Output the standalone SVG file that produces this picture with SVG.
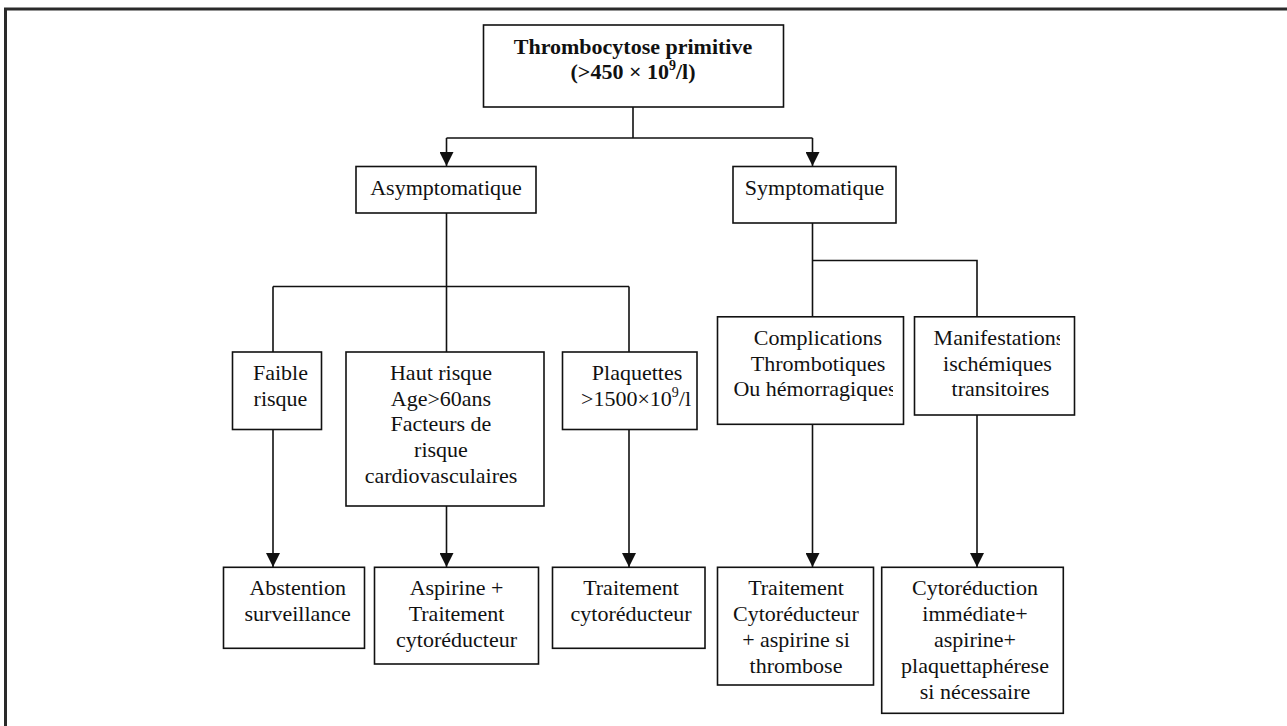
<svg xmlns="http://www.w3.org/2000/svg" width="1287" height="726" viewBox="0 0 1287 726">
<style>
.box{fill:#fff;stroke:#111;stroke-width:1.6}
.t{font-family:"Liberation Serif","Times New Roman",serif;font-size:22px;fill:#111;text-anchor:middle}
.b{font-weight:bold}
.ln{fill:none;stroke:#111;stroke-width:1.6}
.frame{fill:none;stroke:#2a2a2a;stroke-width:3}
</style>
<defs>
<marker id="ah" markerWidth="14" markerHeight="14" refX="14" refY="7" orient="auto" markerUnits="userSpaceOnUse">
<path d="M0,0 L14,7 L0,14 Z" fill="#111"/>
</marker>
<clipPath id="clipComp"><rect x="718" y="317" width="175" height="107"/></clipPath>
<clipPath id="clipMani"><rect x="915" y="317" width="145" height="98"/></clipPath>
</defs>
<rect width="1287" height="726" fill="#fff"/>
<path class="frame" d="M5.5,726 L5.5,9 L1287,9"/>

<g id="connectors">
<path class="ln" d="M633,107 V138 M446.5,138 H812.5"/>
<path class="ln" d="M446.5,138 V166" marker-end="url(#ah)"/>
<path class="ln" d="M812.5,138 V166" marker-end="url(#ah)"/>
<path class="ln" d="M446.5,213 V286.5 M273,286.5 H629 M273,286.5 V352 M446.5,286.5 V352 M629,286.5 V352"/>
<path class="ln" d="M812.5,223 V260.5 H977 V317 M812.5,260.5 V317"/>
<path class="ln" d="M273,429.5 V567" marker-end="url(#ah)"/>
<path class="ln" d="M446.5,506 V567" marker-end="url(#ah)"/>
<path class="ln" d="M629,429.5 V567" marker-end="url(#ah)"/>
<path class="ln" d="M812.5,424.5 V567" marker-end="url(#ah)"/>
<path class="ln" d="M977,415 V567" marker-end="url(#ah)"/>
</g>

<g id="n-root">
<rect class="box" x="483.5" y="25" width="300" height="82"/>
<text class="t b" x="633" y="54">Thrombocytose primitive</text>
<text class="t b" x="633" y="78.5">(&gt;450 × 10<tspan font-size="14" dy="-9">9</tspan><tspan dy="9">/l)</tspan></text>
</g>

<g id="n-asym">
<rect class="box" x="356" y="166.5" width="180" height="46.5"/>
<text class="t" x="446" y="195">Asymptomatique</text>
</g>

<g id="n-sym">
<rect class="box" x="733" y="166.5" width="163" height="56.5"/>
<text class="t" x="814.5" y="195">Symptomatique</text>
</g>

<g id="n-faible">
<rect class="box" x="232.5" y="352" width="89" height="77.5"/>
<text class="t" x="280.5" y="380">Faible</text>
<text class="t" x="280.5" y="406">risque</text>
</g>

<g id="n-haut">
<rect class="box" x="346" y="352" width="198" height="154"/>
<text class="t" x="441" y="380">Haut risque</text>
<text class="t" x="441" y="405.7">Age&gt;60ans</text>
<text class="t" x="441" y="431.4">Facteurs de</text>
<text class="t" x="441" y="457.1">risque</text>
<text class="t" x="441" y="482.8">cardiovasculaires</text>
</g>

<g id="n-plaq">
<rect class="box" x="562.5" y="352" width="134.5" height="77.5"/>
<text class="t" x="637" y="380">Plaquettes</text>
<text class="t" x="636" y="406">&gt;1500×10<tspan font-size="14" dy="-9">9</tspan><tspan dy="9">/l</tspan></text>
</g>

<g id="n-comp">
<rect class="box" x="717.5" y="316.8" width="186" height="107.5"/>
<g clip-path="url(#clipComp)">
<text class="t" x="818" y="345">Complications</text>
<text class="t" x="818" y="370.7">Thrombotiques</text>
<text class="t" x="815" y="396.4">Ou hémorragiques</text>
</g>
</g>

<g id="n-mani">
<rect class="box" x="914.5" y="316.8" width="160" height="98.2"/>
<g clip-path="url(#clipMani)">
<text class="t" x="999" y="345">Manifestations</text>
<text class="t" x="997.5" y="370.7">ischémiques</text>
<text class="t" x="1000.5" y="396.4">transitoires</text>
</g>
</g>

<g id="n-abst">
<rect class="box" x="223.5" y="567.3" width="141" height="81"/>
<text class="t" x="297.7" y="595">Abstention</text>
<text class="t" x="297.7" y="621">surveillance</text>
</g>

<g id="n-asp">
<rect class="box" x="374.5" y="567.3" width="164" height="96.7"/>
<text class="t" x="456.5" y="595">Aspirine +</text>
<text class="t" x="456.5" y="621">Traitement</text>
<text class="t" x="456.5" y="646.7">cytoréducteur</text>
</g>

<g id="n-trait">
<rect class="box" x="552.5" y="567.3" width="152.5" height="81"/>
<text class="t" x="631" y="595">Traitement</text>
<text class="t" x="631" y="621">cytoréducteur</text>
</g>

<g id="n-trait2">
<rect class="box" x="717.5" y="567.3" width="156" height="117.7"/>
<text class="t" x="796" y="595">Traitement</text>
<text class="t" x="796" y="621">Cytoréducteur</text>
<text class="t" x="796" y="646.7">+ aspirine si</text>
<text class="t" x="796" y="672.5">thrombose</text>
</g>

<g id="n-cyto">
<rect class="box" x="881.7" y="567.3" width="181.6" height="146"/>
<text class="t" x="975" y="595">Cytoréduction</text>
<text class="t" x="975" y="621">immédiate+</text>
<text class="t" x="975" y="646.7">aspirine+</text>
<text class="t" x="975" y="672.5">plaquettaphérese</text>
<text class="t" x="975" y="699">si nécessaire</text>
</g>
</svg>
